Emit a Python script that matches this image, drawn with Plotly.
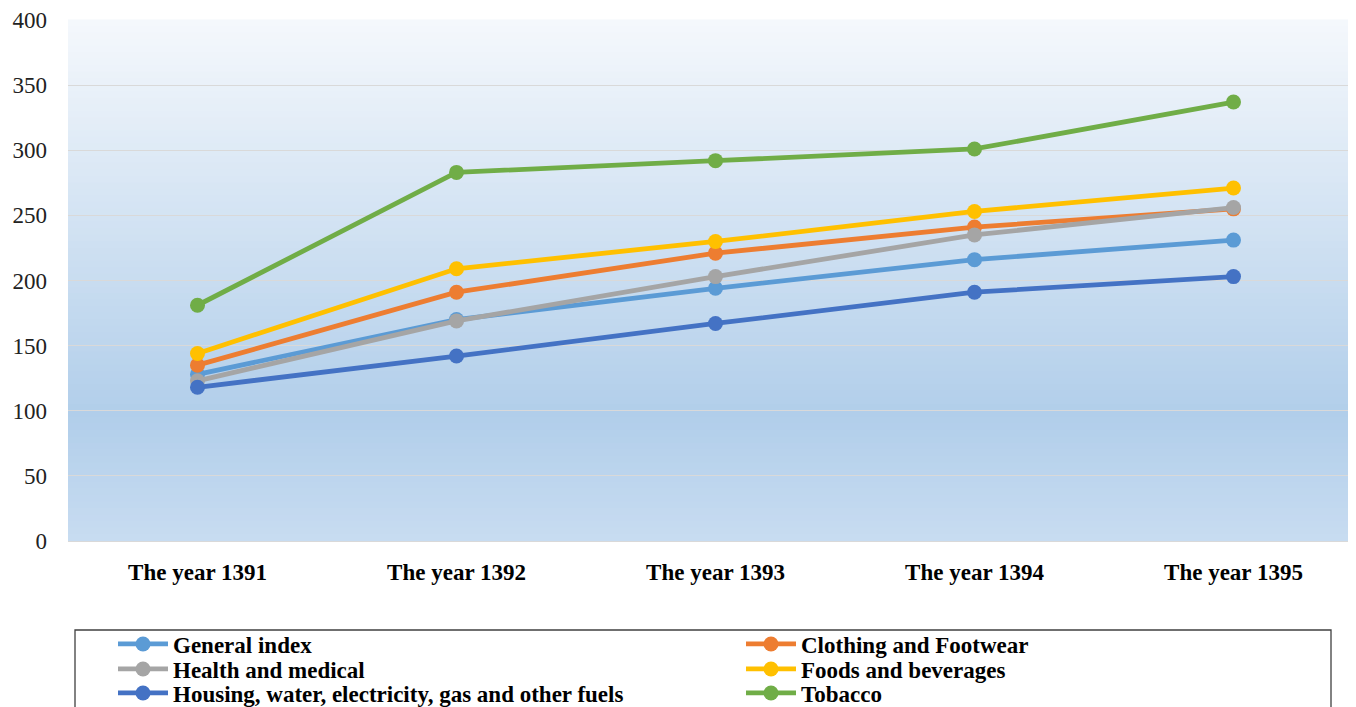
import plotly.graph_objects as go

years = ["The year 1391", "The year 1392", "The year 1393", "The year 1394", "The year 1395"]
general_index = [128, 170, 194, 216, 231]
clothing = [135, 191, 221, 241, 255]
health = [123, 169, 203, 235, 256]
foods = [144, 209, 230, 253, 271]
housing = [118, 142, 167, 191, 203]
tobacco = [181, 283, 292, 301, 337]

series = [
    ("General index", general_index, "#5B9BD5"),
    ("Clothing and Footwear", clothing, "#ED7D31"),
    ("Health and medical", health, "#A5A5A5"),
    ("Foods and beverages", foods, "#FFC000"),
    ("Housing, water, electricity, gas and other fuels", housing, "#4472C4"),
    ("Tobacco", tobacco, "#70AD47"),
]

# The page body has an 8px default margin; the figure is sized to fit the window.
OFF = 8
W, H = 1356 - OFF, 707 - OFF
# legend slot positions in page pixels: column left x, row centre y
legend_cols = [113, 741]
legend_rows = [644, 669, 693]

fig = go.Figure()
legend_layout = {}
for i, (name, vals, col) in enumerate(series):
    key = "legend" if i == 0 else "legend%d" % (i + 1)
    fig.add_trace(go.Scatter(
        x=years, y=vals, name=name, mode="lines+markers",
        line=dict(color=col, width=4.8),
        marker=dict(color=col, size=15),
        legend=key,
    ))
    cx = legend_cols[i % 2] - OFF
    cy = legend_rows[i // 2] - OFF
    legend_layout[key] = dict(
        xref="container", yref="container",
        x=cx / W, y=1 - cy / H, xanchor="left", yanchor="middle",
        font=dict(size=23, family="Liberation Serif, Times New Roman, serif",
                  color="black", weight="bold"),
        bgcolor="rgba(0,0,0,0)", itemwidth=50, borderwidth=0,
    )

# gradient background (top light -> darker at ~76% -> lighter bottom)
def lerp(c1, c2, t):
    return tuple(round(a + (b - a) * t) for a, b in zip(c1, c2))

top = (245, 248, 252)
mid = (177, 206, 234)
bot = (200, 220, 241)
n = 80
shapes = []
for i in range(n):
    f = (i + 0.5) / n
    if f < 0.76:
        c = lerp(top, mid, f / 0.76)
    else:
        c = lerp(mid, bot, (f - 0.76) / 0.24)
    y1 = 1 - i / n
    y0 = 1 - (i + 1) / n
    shapes.append(dict(type="rect", xref="x domain", yref="y domain",
                       x0=0, x1=1, y0=y0 - 0.001, y1=y1 + 0.001,
                       fillcolor="rgb(%d,%d,%d)" % c, line=dict(width=0),
                       layer="below"))

# legend box
plot_l, plot_t, plot_b = 68 - OFF, 20 - OFF, 541 - OFF
plot_w = W - plot_l
plot_h = plot_b - plot_t
shapes.append(dict(type="rect", xref="paper", yref="paper",
                   x0=(75 - 68) / plot_w, x1=(1331 - 68) / plot_w,
                   y0=-0.45, y1=(541 - 630) / plot_h,
                   line=dict(color="#404040", width=1.3), fillcolor="rgba(0,0,0,0)"))

fig.update_layout(
    width=W, height=H,
    margin=dict(l=plot_l, r=0, t=plot_t, b=H - plot_b, autoexpand=False),
    paper_bgcolor="white",
    plot_bgcolor="rgba(0,0,0,0)",
    shapes=shapes,
    font=dict(family="Liberation Serif, Times New Roman, serif", color="#1a1a1a"),
    showlegend=True,
    xaxis=dict(
        range=[-0.5, 4.473], showgrid=False, zeroline=False,
        showline=True, linecolor="#d9d9d9", linewidth=1,
        ticks="", tickfont=dict(size=23, color="black", weight="bold"),
        ticklabelstandoff=10,
    ),
    yaxis=dict(
        range=[0, 400], dtick=50, showgrid=True, gridcolor="#d9d9d9", gridwidth=1.3,
        zeroline=False, showline=False, ticks="",
        tickfont=dict(size=23, color="#222"), ticklabelstandoff=20,
    ),
    **legend_layout,
)

fig.write_html("out.html")
